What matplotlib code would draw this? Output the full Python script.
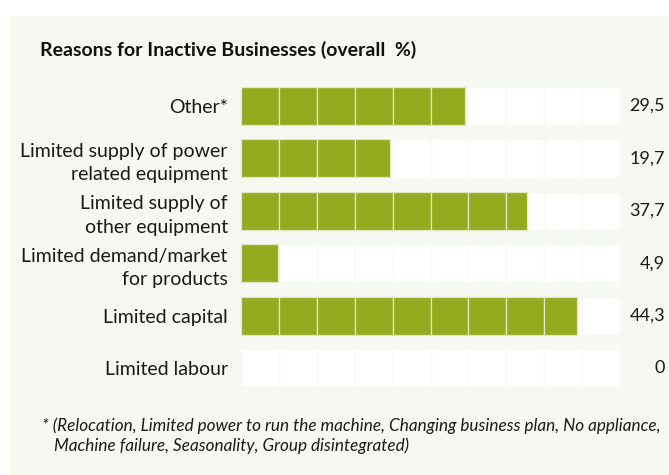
import matplotlib
matplotlib.use("Agg")
import matplotlib.pyplot as plt

categories = ["Other*", "Limited supply of power\nrelated equipment", "Limited supply of\nother equipment",
              "Limited demand/market\nfor products", "Limited capital", "Limited labour"]
values = [29.5, 19.7, 37.7, 4.9, 44.3, 0]
value_labels = ["29,5", "19,7", "37,7", "4,9", "44,3", "0"]
title = "Reasons for Inactive Businesses (overall  %)"
footnote = ("* (Relocation, Limited power to run the machine, Changing business plan, No appliance,\n"
            "   Machine failure, Seasonality, Group disintegrated)")

plt.rcParams['font.family'] = ['Lato', 'DejaVu Sans']
W, H = 669, 475
fig = plt.figure(figsize=(W / 100, H / 100), dpi=100)
fig.patch.set_facecolor("white")
panel_color = "#f6f8f2"
bg = fig.add_axes([10 / W, 0, 1 - 10 / W, 1 - 16 / H], zorder=-5)
bg.set_facecolor(panel_color)
bg.set_xticks([]); bg.set_yticks([])
for s in bg.spines.values():
    s.set_visible(False)

green = "#93ab1f"
step = 5
xmax = 50
ax = fig.add_axes([241 / W, 1 - 394.2 / H, 379 / W, 314.4 / H], zorder=1)
ax.set_facecolor("none")
bh = 0.725
for i, v in enumerate(values):
    starts = list(range(0, xmax, step))
    ax.barh([i] * len(starts), [step] * len(starts), left=starts, height=bh,
            color="white", edgecolor=panel_color, linewidth=1.0, zorder=1)
    gs = [s for s in starts if s < v]
    gw = [min(step, v - s) for s in gs]
    if gs:
        ax.barh([i] * len(gs), gw, left=gs, height=bh, color=green,
                edgecolor="#dfe8c4", linewidth=0.9, zorder=2)
    ax.annotate(value_labels[i], xy=(xmax, i), xytext=(32.5, 0), textcoords="offset points",
                ha="right", va="center", fontsize=13, color="#1a1a1a")

ax.set_xlim(0, xmax)
ax.set_ylim(len(values) - 0.5, -0.5)
ax.set_yticks(range(len(categories)))
ax.set_yticklabels(categories, fontsize=14, color="#1a1a1a", linespacing=1.45)
ax.tick_params(axis="y", length=0, pad=9.5)
ax.set_xticks([])
for s in ax.spines.values():
    s.set_visible(False)

fig.text(40 / W, 1 - 50 / H, title, fontsize=14, fontweight="bold", color="#111111",
         ha="left", va="center")
fig.text(42 / W, 1 - 417 / H, footnote, fontsize=12.3, style="italic", color="#1a1a1a",
         ha="left", va="top", linespacing=1.3)

fig.savefig("out.png", dpi=100, facecolor=fig.get_facecolor())
